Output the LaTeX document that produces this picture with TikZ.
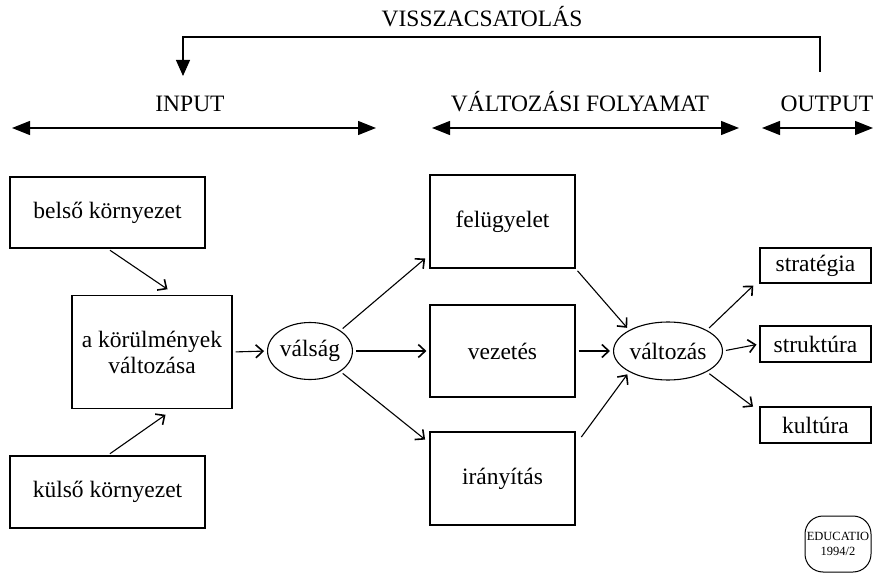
\documentclass[tikz,border=0pt]{standalone}
\usepackage{fontspec}
\setmainfont{Liberation Serif}
\usetikzlibrary{arrows.meta,shapes.geometric,calc}
\begin{document}
\begin{tikzpicture}[x=1pt,y=-1pt,
  every node/.style={font=\fontsize{23.5}{26}\selectfont, inner sep=0pt},
  box/.style={draw, line width=1.1pt, align=center},
  oval/.style={draw, ellipse, line width=1.1pt},
  head/.style={font=\fontsize{23.5}{26}\selectfont, anchor=base},
  flow/.style={line width=1.1pt, -{Straight Barb[length=7pt,width=13pt,line width=1.6pt]}, shorten >=3pt, shorten <=3pt},
  span/.style={line width=1.3pt, {Triangle[length=18pt,width=14pt]}-{Triangle[length=18pt,width=14pt]}},
  logo/.style={draw, line width=1pt, rounded corners=18pt, align=center, font=\fontsize{12.5}{15}\selectfont}
]
\useasboundingbox (0,0) rectangle (873,580);

% headings
\node[head] (fbl) at (482,27) {VISSZACSATOLÁS};
\node[head] (inp) at (190,112) {INPUT};
\node[head] (vf) at (580,112) {VÁLTOZÁSI FOLYAMAT};
\node[head] (outp) at (827,112) {OUTPUT};

% feedback
\coordinate (fbR) at (820,72);
\coordinate (fbL) at (183,76);
\draw[line width=1.1pt, -{Triangle[length=16pt,width=14pt]}] (fbR) -- ++(0,-35) -| (fbL);

% span arrows
\coordinate (i1) at (12,128);  \coordinate (i2) at (376,128);
\coordinate (v1) at (432,128); \coordinate (v2) at (739,128);
\coordinate (o1) at (762,128); \coordinate (o2) at (873,128);
\draw[span] (i1) -- (i2);
\draw[span] (v1) -- (v2);
\draw[span] (o1) -- (o2);

% boxes
\node[box, minimum width=195pt, minimum height=71pt] (belso) at (107.5,212.5) {belső környezet};
\node[box, minimum width=160pt, minimum height=113pt] (korul) at (152,352) {a körülmények\\változása};
\node[box, minimum width=195pt, minimum height=72pt] (kulso) at (107.5,492) {külső környezet};
\node[oval, minimum width=78pt, minimum height=57pt] (valsag) at (310,351) {válság};
\node[box, minimum width=145pt, minimum height=93pt] (felu) at (502.5,221.5) {felügyelet};
\node[box, minimum width=145pt, minimum height=92pt] (vez) at (502.5,351) {vezetés};
\node[box, minimum width=145pt, minimum height=93pt] (irany) at (502.5,478.5) {irányítás};
\node[oval, minimum width=104pt, minimum height=58pt] (valt) at (668,351) {változás};
\node[box, minimum width=111pt, minimum height=35pt] (strat) at (815.5,265.5) {stratégia};
\node[box, minimum width=111pt, minimum height=36pt] (strukt) at (815.5,344) {struktúra};
\node[box, minimum width=111pt, minimum height=36pt] (kult) at (815.5,425) {kultúra};
\node[logo, minimum width=66pt, minimum height=56pt] (edu) at (838,544) {EDUCATIO\\1994/2};

% connectors
\draw[flow] (belso.south) -- ($(korul.north)+(18,-4)$);
\draw[flow] (kulso.north) -- ($(korul.south)+(16,4)$);
\draw[flow] (korul.east) -- (valsag.west);
\draw[flow] (valsag.north east) -- ($(felu.south west)+(-2,-12)$);
\draw[flow] (valsag.east) -- (vez.west);
\draw[flow] (valsag.south east) -- ($(irany.north west)+(-2,10)$);
\draw[flow] (felu.south east) -- (valt.north west);
\draw[flow] (vez.east) -- (valt.west);
\draw[flow] ($(irany.north east)+(4,8)$) -- (valt.south west);
\draw[flow] (valt.north east) -- ($(strat.south west)+(-4,0)$);
\draw[flow] (valt.east) -- (strukt.west);
\draw[flow] (valt.south east) -- ($(kult.north west)+(-4,2)$);
\end{tikzpicture}
\end{document}
